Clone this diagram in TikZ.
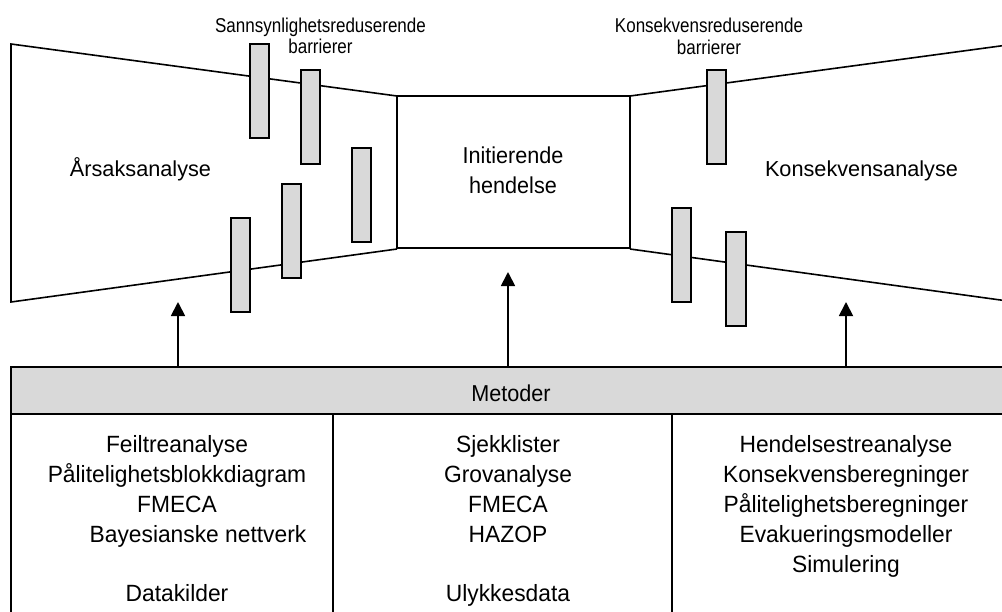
\documentclass[tikz,border=0pt]{standalone}
\usepackage{fontspec}
\setmainfont{Liberation Sans}
\newfontfamily\condfont[FakeStretch=0.94]{Liberation Sans}
\newfontfamily\tablefont[FakeStretch=0.97]{Liberation Sans}
\newfontfamily\narrowfont[FakeStretch=0.85]{Liberation Sans}
\usetikzlibrary{arrows.meta}
\definecolor{barfill}{HTML}{D9D9D9}

\begin{document}
\begin{tikzpicture}[x=1pt,y=-1pt,
  outline/.style={line width=1.6pt, line join=miter},
  barrier/.style={draw, line width=1.4pt, fill=barfill},
  arr/.style={line width=1.8pt, -{Triangle[width=14pt,length=14pt]}},
  zonetxt/.style={font=\fontsize{21.7}{26}\selectfont, inner sep=0pt, anchor=base},
  evtxt/.style={font=\condfont\fontsize{23}{30}\selectfont, inner sep=0pt, anchor=base, align=center},
  bartxt/.style={font=\narrowfont\fontsize{20}{21.3}\selectfont, inner sep=0pt, anchor=base, align=center},
  coltxt/.style={font=\tablefont\fontsize{23.5}{30}\selectfont, inner sep=0pt, anchor=base, align=center},
  hdrtxt/.style={font=\condfont\fontsize{23}{30}\selectfont, inner sep=0pt, anchor=base},
  hdr/.style={draw, line width=1.6pt, fill=barfill, inner sep=0pt,
              minimum width=1020pt, minimum height=47pt},
]
\useasboundingbox (0,0) rectangle (1002,611);
\clip (0,0) rectangle (1002,611);

% cause side, initiating event and consequence side
\draw[outline] (397,96) -- (11,44) -- (11,302) -- (397,249);
\node (ie) [draw, line width=1.6pt, inner sep=0pt, minimum width=233pt, minimum height=152pt]
  at (513.5,172) {};
\draw[outline] (630,96) -- (1015,44) -- (1015,302) -- (630,249);

% barriers
\draw[barrier] (250,44) rectangle (269,138);
\draw[barrier] (301,70) rectangle (320,164);
\draw[barrier] (352,148) rectangle (371,242);
\draw[barrier] (282,184) rectangle (301,278);
\draw[barrier] (231,218) rectangle (250,312);
\draw[barrier] (707,70) rectangle (726,164);
\draw[barrier] (672,208) rectangle (691,302);
\draw[barrier] (726,232) rectangle (746,326);

% labels in the upper part (anchored at the baseline of the last line)
\node[bartxt] (pb) at (320.5,53.5) {Sannsynlighetsreduserende\\barrierer};
\node[bartxt] (kb) at (709,54) {Konsekvensreduserende\\barrierer};
\node[zonetxt] (aa) at (140.5,176.5) {Årsaksanalyse};
\node[zonetxt] (ka) at (861.5,176) {Konsekvensanalyse};
\node[evtxt] (iet) at (513,193.5) {Initierende\\hendelse};

% methods table
\node (met) [hdr] at (521,390.5) {};
\node[hdrtxt] (mt) at (511,401.5) {Metoder};
\draw[outline] (11,414) -- (11,620);
\draw[outline] (333,414) -- (333,620);
\draw[outline] (672,414) -- (672,620);

\node[coltxt] (c1) at (177,601)
  {Feiltreanalyse\\Pålitelighetsblokkdiagram\\FMECA\\\hspace*{42pt}Bayesianske nettverk\\[29pt]Datakilder};
\node[coltxt] (c2) at (508,601)
  {Sjekklister\\Grovanalyse\\FMECA\\HAZOP\\[29pt]Ulykkesdata};
\node[coltxt] (c3) at (846,572)
  {Hendelsestreanalyse\\Konsekvensberegninger\\Pålitelighetsberegninger\\Evakueringsmodeller\\Simulering};

% arrows from the methods up to the three parts
\coordinate (tl) at (178,302);
\coordinate (tm) at (508,272);
\coordinate (tr) at (846,302);
\draw[arr] (met.north -| tl) -- (tl);
\draw[arr] (met.north -| tm) -- (tm);
\draw[arr] (met.north -| tr) -- (tr);
\end{tikzpicture}
\end{document}
